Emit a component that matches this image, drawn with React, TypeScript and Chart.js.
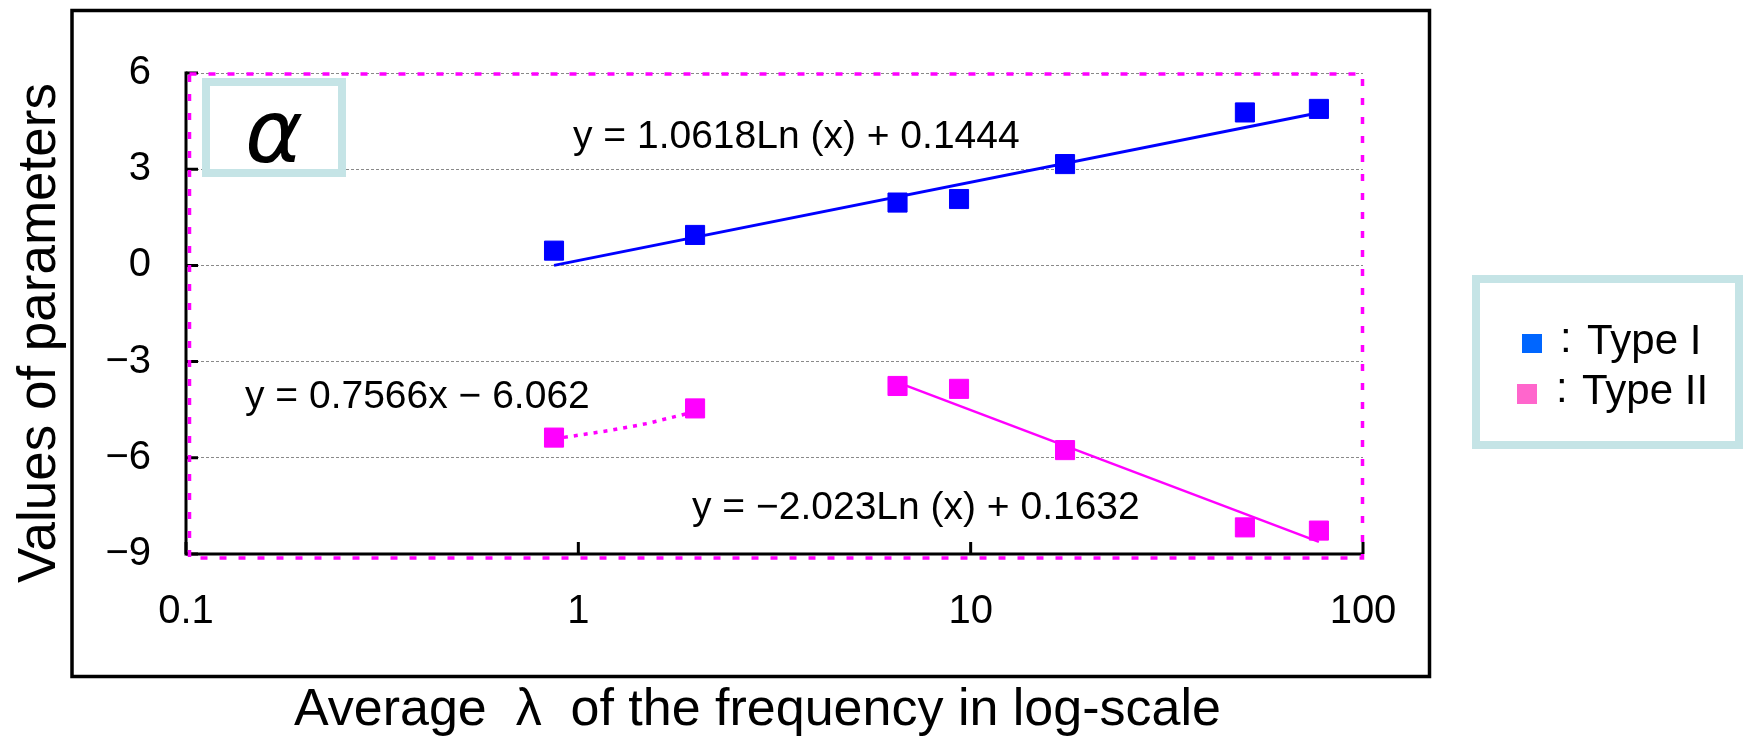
import React, { useEffect, useRef } from 'react';
import { Chart, registerables } from 'chart.js';

Chart.register(...registerables);

// ---- data ----
const lambdaValues = [0.867, 1.984, 6.51, 9.34, 17.4, 50.0, 77.2];
const typeIValues = [0.46, 0.95, 1.96, 2.07, 3.16, 4.77, 4.88];
const typeIIValues = [-5.37, -4.46, -3.76, -3.85, -5.76, -8.17, -8.27];

const trendIX = [0.867, 77.2];
const trendIY = [0.0, 4.76];
const trendIILogX = [6.51, 77.2];
const trendIILogY = [-3.65, -8.62];
const trendIILinX = [0.867, 1.2, 1.5, 1.984];
const trendIILinY = [-5.41, -5.15, -4.93, -4.56];

const xTickValues = [0.1, 1, 10, 100];
const xTickLabels = ['0.1', '1', '10', '100'];
const yTickValues = [-9, -6, -3, 0, 3, 6];
const yTickLabels = ['\u22129', '\u22126', '\u22123', '0', '3', '6'];

const equationTexts = [
  'y = 1.0618Ln (x) + 0.1444',
  'y = 0.7566x \u2212 6.062',
  'y = \u22122.023Ln (x) + 0.1632',
];
const legendLabels = ['Type I', 'Type II'];
const xTitle = 'Average  \u03BB  of the frequency in log-scale';
const yTitle = 'Values of parameters';
const panelLabel = '\u03B1';

const BLUE = '#0000ff';
const MAGENTA = '#ff00ff';
const BOXCOL = '#c5e4e6';
const SANS = '"Liberation Sans", Arial, sans-serif';

const pts = (xs: number[], ys: number[]) => xs.map((x, i) => ({ x, y: ys[i] }));

const decorPlugin = {
  id: 'decor',
  afterDraw(chart: any) {
    const { ctx, chartArea: ca, scales } = chart;
    const xs = scales.x;
    const ys = scales.y;
    ctx.save();

    // outer frame
    ctx.strokeStyle = '#000';
    ctx.lineWidth = 3.5;
    ctx.setLineDash([]);
    ctx.strokeRect(72, 10.5, 1357.5, 666);

    // axes
    ctx.lineWidth = 3;
    ctx.beginPath();
    ctx.moveTo(ca.left, ca.top - 1.5);
    ctx.lineTo(ca.left, ca.bottom);
    ctx.lineTo(ca.right, ca.bottom);
    ctx.stroke();

    // inner tick marks
    ctx.beginPath();
    yTickValues.forEach((v) => {
      const py = ys.getPixelForValue(v);
      ctx.moveTo(ca.left, py);
      ctx.lineTo(ca.left + 12, py);
    });
    xTickValues.forEach((v) => {
      const px = xs.getPixelForValue(v);
      ctx.moveTo(px, ca.bottom);
      ctx.lineTo(px, ca.bottom - 12);
    });
    ctx.stroke();

    // magenta dotted plot frame
    ctx.strokeStyle = MAGENTA;
    ctx.lineWidth = 3.5;
    ctx.setLineDash([7, 12]);
    ctx.strokeRect(ca.left + 3.5, ca.top + 1, ca.width - 4, ca.height + 3);
    ctx.setLineDash([]);

    // alpha box
    ctx.strokeStyle = BOXCOL;
    ctx.lineWidth = 8;
    ctx.strokeRect(206, 82, 136, 91);
    ctx.fillStyle = '#000';
    ctx.font = 'italic 88px "DejaVu Sans", sans-serif';
    ctx.textAlign = 'center';
    ctx.textBaseline = 'alphabetic';
    ctx.fillText(panelLabel, 274, 162);

    // legend box
    ctx.strokeStyle = BOXCOL;
    ctx.lineWidth = 8;
    ctx.strokeRect(1476, 279, 263, 166);
    ctx.fillStyle = '#0066ff';
    ctx.fillRect(1522, 334, 20, 19);
    ctx.fillStyle = '#ff66cc';
    ctx.fillRect(1517, 384, 20, 20);
    ctx.fillStyle = '#000';
    ctx.textAlign = 'left';
    ctx.font = `42px ${SANS}`;
    ctx.fillText(':', 1560, 352);
    ctx.fillText(legendLabels[0], 1587, 354);
    ctx.fillText(':', 1556, 402);
    ctx.fillText(legendLabels[1], 1582, 404);

    // equations
    ctx.font = `39px ${SANS}`;
    ctx.fillText(equationTexts[0], 573, 148);
    ctx.fillText(equationTexts[1], 245, 408);
    ctx.fillText(equationTexts[2], 692, 519);

    // axis titles
    ctx.font = `52px ${SANS}`;
    ctx.textAlign = 'left';
    ctx.fillText(xTitle, 294, 725);
    ctx.save();
    ctx.translate(55, 333);
    ctx.rotate(-Math.PI / 2);
    ctx.textAlign = 'center';
    ctx.font = `53px ${SANS}`;
    ctx.fillText(yTitle, 0, 0);
    ctx.restore();

    ctx.restore();
  },
};

export default function App() {
  const ref = useRef<HTMLCanvasElement | null>(null);

  useEffect(() => {
    if (!ref.current) return;
    const chart = new Chart(ref.current, {
      type: 'scatter',
      data: {
        datasets: [
          {
            label: 'Type I',
            data: pts(lambdaValues, typeIValues),
            showLine: false,
            pointStyle: 'rect',
            pointRadius: 13.5,
            pointHoverRadius: 13.5,
            backgroundColor: BLUE,
            borderColor: BLUE,
            borderWidth: 1,
          },
          {
            label: 'Type II',
            data: pts(lambdaValues, typeIIValues),
            showLine: false,
            pointStyle: 'rect',
            pointRadius: 13.5,
            pointHoverRadius: 13.5,
            backgroundColor: MAGENTA,
            borderColor: MAGENTA,
            borderWidth: 1,
          },
          {
            label: 'Type I trend',
            data: pts(trendIX, trendIY),
            showLine: true,
            pointRadius: 0,
            borderColor: BLUE,
            borderWidth: 3,
          },
          {
            label: 'Type II log trend',
            data: pts(trendIILogX, trendIILogY),
            showLine: true,
            pointRadius: 0,
            borderColor: MAGENTA,
            borderWidth: 2.5,
          },
          {
            label: 'Type II linear trend',
            data: pts(trendIILinX, trendIILinY),
            showLine: true,
            pointRadius: 0,
            borderColor: MAGENTA,
            borderWidth: 3.5,
            borderDash: [4, 6],
          },
        ],
      },
      options: {
        responsive: false,
        animation: false,
        devicePixelRatio: 1,
        events: [],
        layout: { padding: { left: 0, top: 73, right: 383, bottom: 0 } },
        plugins: { legend: { display: false }, tooltip: { enabled: false } },
        scales: {
          x: {
            type: 'logarithmic',
            min: 0.1,
            max: 100,
            grid: { display: false, drawTicks: false },
            border: { display: false },
            afterBuildTicks: (s: any) => {
              s.ticks = xTickValues.map((v) => ({ value: v }));
            },
            afterFit: (s: any) => {
              s.height = 182;
            },
            ticks: {
              autoSkip: false,
              maxRotation: 0,
              padding: 34,
              color: '#000',
              font: { family: SANS, size: 40 },
              callback: (v: any) => {
                const i = xTickValues.findIndex((t) => Math.abs(t - Number(v)) < 1e-9);
                return i >= 0 ? xTickLabels[i] : '';
              },
            },
          },
          y: {
            min: -9,
            max: 6,
            grid: { color: '#8a8a8a', lineWidth: 1, drawTicks: false },
            border: { display: false, dash: [3, 2] },
            afterBuildTicks: (s: any) => {
              s.ticks = yTickValues.map((v) => ({ value: v }));
            },
            afterFit: (s: any) => {
              s.width = 186;
            },
            ticks: {
              padding: 35,
              color: '#000',
              font: { family: SANS, size: 40 },
              callback: (v: any) => {
                const i = yTickValues.indexOf(Number(v));
                return i >= 0 ? yTickLabels[i] : '';
              },
            },
          },
        },
      },
      plugins: [decorPlugin],
    });
    return () => chart.destroy();
  }, []);

  return (
    <div style={{ position: 'fixed', left: 0, top: 0, width: 1746, height: 736, background: '#fff' }}>
      <canvas ref={ref} width={1746} height={736} style={{ display: 'block', width: 1746, height: 736 }} />
    </div>
  );
}
